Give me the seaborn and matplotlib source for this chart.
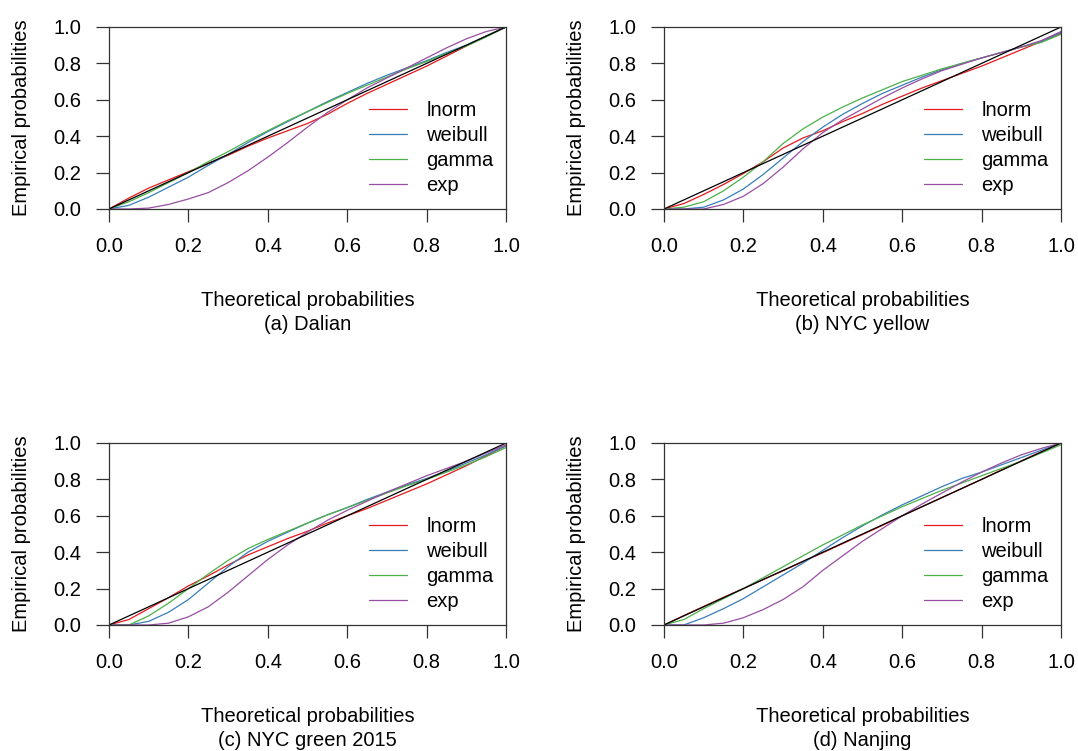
import numpy as np
import pandas as pd
import matplotlib
matplotlib.use("Agg")
import matplotlib.pyplot as plt
import seaborn as sns

sns.set_theme(style="white")
plt.rcParams['font.family'] = ['Liberation Sans', 'DejaVu Sans']
plt.rcParams['text.color'] = 'black'
plt.rcParams['axes.labelcolor'] = 'black'

# ---------------- data ----------------
x_grid = [0.00, 0.05, 0.10, 0.15, 0.20, 0.25, 0.30, 0.35, 0.40, 0.45, 0.50,
          0.55, 0.60, 0.65, 0.70, 0.75, 0.80, 0.85, 0.90, 0.95, 1.00]
dists = ["lnorm", "weibull", "gamma", "exp"]
titles = ["(a) Dalian", "(b) NYC yellow", "(c) NYC green 2015", "(d) Nanjing"]

# (a) Dalian
a_lnorm   = [0, 0.060, 0.115, 0.160, 0.205, 0.250, 0.295, 0.345, 0.390, 0.430, 0.470,
             0.520, 0.580, 0.635, 0.685, 0.735, 0.785, 0.840, 0.895, 0.950, 1.000]
a_weibull = [0, 0.020, 0.065, 0.120, 0.175, 0.240, 0.300, 0.365, 0.425, 0.480, 0.535,
             0.590, 0.640, 0.690, 0.735, 0.775, 0.815, 0.860, 0.900, 0.950, 1.000]
a_gamma   = [0, 0.040, 0.090, 0.145, 0.200, 0.260, 0.315, 0.375, 0.430, 0.485, 0.535,
             0.585, 0.635, 0.680, 0.725, 0.770, 0.810, 0.855, 0.895, 0.945, 1.000]
a_exp     = [0, 0.000, 0.005, 0.025, 0.055, 0.090, 0.145, 0.210, 0.285, 0.365, 0.450,
             0.530, 0.600, 0.665, 0.720, 0.775, 0.830, 0.885, 0.935, 0.975, 1.000]

# (b) NYC yellow
b_lnorm   = [0, 0.030, 0.080, 0.135, 0.195, 0.260, 0.335, 0.390, 0.430, 0.480, 0.525,
             0.575, 0.620, 0.665, 0.705, 0.745, 0.785, 0.830, 0.875, 0.920, 0.965]
b_weibull = [0, 0.000, 0.010, 0.050, 0.110, 0.190, 0.280, 0.370, 0.450, 0.520, 0.580,
             0.635, 0.680, 0.725, 0.765, 0.800, 0.830, 0.860, 0.890, 0.920, 0.970]
b_gamma   = [0, 0.010, 0.040, 0.100, 0.175, 0.260, 0.360, 0.440, 0.505, 0.560, 0.610,
             0.655, 0.700, 0.735, 0.770, 0.800, 0.830, 0.860, 0.890, 0.915, 0.960]
b_exp     = [0, 0.000, 0.000, 0.025, 0.070, 0.140, 0.230, 0.330, 0.420, 0.490, 0.550,
             0.610, 0.665, 0.715, 0.760, 0.795, 0.830, 0.860, 0.890, 0.925, 0.975]

# (c) NYC green 2015
c_lnorm   = [0, 0.030, 0.090, 0.150, 0.215, 0.270, 0.330, 0.385, 0.430, 0.475, 0.515,
             0.560, 0.600, 0.640, 0.685, 0.730, 0.775, 0.825, 0.875, 0.930, 0.985]
c_weibull = [0, 0.000, 0.020, 0.070, 0.140, 0.230, 0.320, 0.400, 0.460, 0.510, 0.560,
             0.605, 0.645, 0.690, 0.730, 0.770, 0.805, 0.845, 0.890, 0.935, 0.985]
c_gamma   = [0, 0.000, 0.050, 0.120, 0.200, 0.280, 0.355, 0.420, 0.470, 0.515, 0.560,
             0.605, 0.645, 0.685, 0.725, 0.765, 0.800, 0.840, 0.880, 0.925, 0.975]
c_exp     = [0, 0.000, 0.000, 0.010, 0.045, 0.100, 0.180, 0.270, 0.360, 0.440, 0.510,
             0.575, 0.630, 0.680, 0.730, 0.775, 0.820, 0.860, 0.900, 0.945, 0.990]

# (d) Nanjing
d_lnorm   = [0, 0.052, 0.102, 0.152, 0.200, 0.250, 0.298, 0.348, 0.397, 0.447, 0.497,
             0.547, 0.600, 0.650, 0.700, 0.750, 0.800, 0.852, 0.902, 0.952, 1.000]
d_weibull = [0, 0.000, 0.040, 0.090, 0.145, 0.210, 0.275, 0.340, 0.410, 0.480, 0.545,
             0.605, 0.660, 0.710, 0.760, 0.805, 0.840, 0.880, 0.920, 0.960, 1.000]
d_gamma   = [0, 0.030, 0.090, 0.145, 0.200, 0.260, 0.320, 0.380, 0.440, 0.495, 0.550,
             0.600, 0.650, 0.695, 0.740, 0.780, 0.820, 0.860, 0.900, 0.945, 0.990]
d_exp     = [0, 0.000, 0.000, 0.010, 0.040, 0.085, 0.140, 0.210, 0.300, 0.380, 0.460,
             0.530, 0.600, 0.665, 0.725, 0.785, 0.840, 0.890, 0.935, 0.970, 1.000]

panels = [
    [a_lnorm, a_weibull, a_gamma, a_exp],
    [b_lnorm, b_weibull, b_gamma, b_exp],
    [c_lnorm, c_weibull, c_gamma, c_exp],
    [d_lnorm, d_weibull, d_gamma, d_exp],
]
ticks = [0.0, 0.2, 0.4, 0.6, 0.8, 1.0]
tick_labels = ["0.0", "0.2", "0.4", "0.6", "0.8", "1.0"]

# ---------------- figure ----------------
W, H = 1078, 751
fig = plt.figure(figsize=(W / 100, H / 100), dpi=100)
palette = sns.color_palette("Set1", 4)

ax_w, ax_h = 397 / W, 182 / H
positions = [
    (109 / W, 1 - 209 / H),
    (664 / W, 1 - 209 / H),
    (109 / W, 1 - 625 / H),
    (664 / W, 1 - 625 / H),
]
FS = 14.5
frame_col = "#333333"

for i, (vals, title, pos) in enumerate(zip(panels, titles, positions)):
    ax = fig.add_axes([pos[0], pos[1], ax_w, ax_h])
    df = pd.DataFrame({
        "x": np.tile(x_grid, 4),
        "y": np.concatenate(vals),
        "dist": np.repeat(dists, len(x_grid)),
    })
    sns.lineplot(data=df, x="x", y="y", hue="dist", hue_order=dists,
                 palette=palette, estimator=None, sort=False, lw=0.9,
                 legend=False, ax=ax)
    ax.plot([0, 1], [0, 1], color="black", lw=0.9)
    ax.set_xlim(0, 1)
    ax.set_ylim(0, 1)
    ax.set_xticks(ticks)
    ax.set_xticklabels(tick_labels)
    ax.set_yticks(ticks)
    ax.set_yticklabels(tick_labels)
    ax.tick_params(axis="both", direction="out", length=9.4, width=0.9,
                   color=frame_col, labelsize=FS, pad=10.5,
                   bottom=True, left=True, labelcolor="black")
    for sp in ax.spines.values():
        sp.set_color(frame_col)
        sp.set_linewidth(0.9)
    ax.set_ylabel("Empirical probabilities", fontsize=FS, va="center",
                  color="black")
    ax.yaxis.set_label_coords(-0.22, 0.5)
    ax.set_xlabel("Theoretical probabilities\n" + title, fontsize=FS,
                  va="center", linespacing=1.32, color="black")
    ax.xaxis.set_label_coords(0.5, -0.57)

    handles = ax.get_lines()[:4]
    leg = ax.legend(handles, dists, loc="center left", bbox_to_anchor=(0.655, 0.335),
                    frameon=False, fontsize=FS, handlelength=1.9, handletextpad=0.95,
                    labelspacing=0.3, borderpad=0, borderaxespad=0)
    for t in leg.get_texts():
        t.set_color("black")
    ax.grid(False)

fig.savefig("out.png", dpi=100)
